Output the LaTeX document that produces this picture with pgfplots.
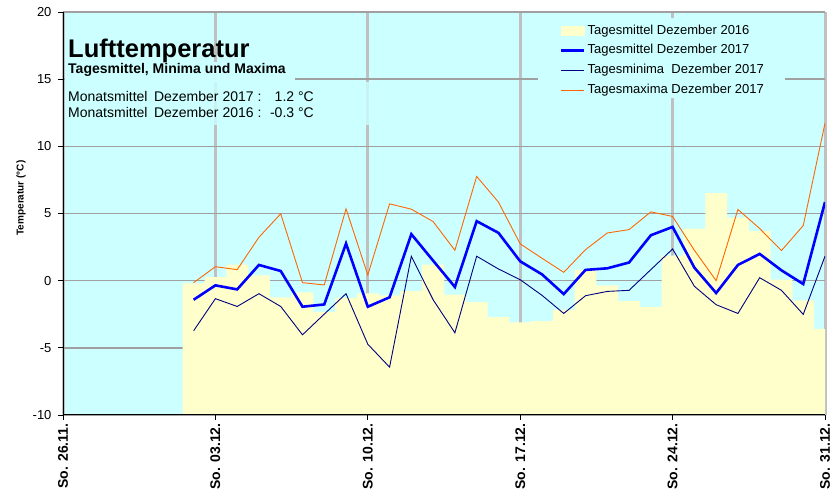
\documentclass[border=0pt]{standalone}
\usepackage{fontspec}
\setmainfont{Liberation Sans}
\usepackage{pgfplots}
\usepackage{pgfplotstable}
\pgfplotsset{compat=1.18}
\usepgfplotslibrary{fillbetween}

\definecolor{bgcyan}{HTML}{CCFFFF}
\definecolor{bar16}{HTML}{FFFFCC}
\definecolor{mean17}{HTML}{0000FF}
\definecolor{min17}{HTML}{000080}
\definecolor{max17}{HTML}{FF6600}
\definecolor{vgrid}{HTML}{C0C0C0}
\definecolor{hgrid}{HTML}{A0A0A0}

% day 0 = So. 26.11., day 35 = So. 31.12.
\pgfplotstableread{
day tmean tmin tmax
6 -1.42 -3.73 -0.15
7 -0.35 -1.34 1.04
8 -0.65 -1.92 0.82
9 1.17 -0.97 3.23
10 0.72 -1.92 4.98
11 -1.94 -4.03 -0.15
12 -1.77 -2.49 -0.32
13 2.76 -0.97 5.35
14 -1.94 -4.73 0.42
15 -1.24 -6.44 5.72
16 3.46 1.82 5.32
17 1.49 -1.42 4.40
18 -0.47 -3.88 2.26
19 4.43 1.82 7.76
20 3.56 0.87 5.85
21 1.44 0.07 2.74
22 0.47 -1.09 1.67
23 -1.00 -2.44 0.62
24 0.80 -1.12 2.31
25 0.92 -0.80 3.55
26 1.35 -0.72 3.80
27 3.38 0.82 5.12
28 4.00 2.36 4.78
29 0.97 -0.42 2.26
30 -0.92 -1.79 0.00
31 1.17 -2.44 5.30
32 1.99 0.22 3.88
33 0.77 -0.72 2.24
34 -0.25 -2.51 4.10
35 5.85 1.82 11.72
}\dezember

% Vorjahr: left edge of each day, last row closes the step
\pgfplotstableread{
xl t16
5.5 -0.20
6.5 0.27
7.5 1.19
8.5 0.40
9.5 -1.24
10.5 -0.87
11.5 -2.34
12.5 -1.29
13.5 -0.95
14.5 -1.10
15.5 -0.77
16.5 1.19
17.5 -1.04
18.5 -1.59
19.5 -2.71
20.5 -3.11
21.5 -3.01
22.5 -2.16
23.5 0.82
24.5 -0.35
25.5 -1.52
26.5 -1.97
27.5 1.87
28.5 3.88
29.5 6.52
30.5 4.70
31.5 3.68
32.5 0.07
33.5 -1.47
34.5 -3.58
35.5 -3.58
}\vorjahr

\begin{document}
\begin{tikzpicture}
\begin{axis}[
  at={(63pt,80pt)}, anchor=south west,
  scale only axis, width=762pt, height=403pt,
  xmin=0, xmax=35, ymin=-10, ymax=20,
  axis background/.style={fill=bgcyan},
  axis line style={draw=none},
  xtick={0,7,14,21,28,35},
  xticklabels={So. 26.11.,So. 03.12.,So. 10.12.,So. 17.12.,So. 24.12.,So. 31.12.},
  ytick={-10,-5,0,5,10,15,20},
  tick pos=left, tick align=outside, major tick length=5pt,
  tick style={black, line width=0.8pt},
  xmajorgrids, ymajorgrids,
  x grid style={vgrid, line width=3pt},
  y grid style={hgrid, line width=1.5pt},
  x tick label style={rotate=90, anchor=east, font=\bfseries\fontsize{14}{16}\selectfont},
  y tick label style={font=\fontsize{13}{15}\selectfont, xshift=-3pt},
  /pgf/number format/assume math mode=true,
  legend image code/.code={\draw[#1] (0pt,0pt) -- (23pt,0pt);},
  legend style={at={(axis description cs:0.652,0.974)}, anchor=north west,
    draw=none, fill=none, inner sep=0pt, row sep=3.3pt,
    font=\fontsize{13}{15}\selectfont,
    nodes={inner sep=2pt, text height=9.5pt, text depth=3pt}},
  legend cell align=left,
]
\addplot[name path=vj, draw=none, const plot mark left, forget plot] table[x=xl, y=t16] {\vorjahr};
\addplot[name path=basis, draw=none, forget plot] coordinates {(5.5,-10) (35.5,-10)};
\addplot[bar16, forget plot] fill between[of=vj and basis];

% text boxes hide the grid
\fill[bgcyan] (axis cs:21.82,13.6) rectangle (axis cs:33.16,19.55);
\fill[bgcyan] (axis cs:0.09,14.79) rectangle (axis cs:10.66,16.28);
\fill[bgcyan, opacity=0.8] (axis cs:0.09,11.59) rectangle (axis cs:14.19,14.79);

\addlegendimage{legend image code/.code={\fill[bar16] (0pt,-4.5pt) rectangle (23pt,4.5pt);}}
\addlegendentry{Tagesmittel Dezember 2016}
\addplot[mean17, line width=2.6pt] table[x=day, y=tmean] {\dezember};
\addlegendentry{Tagesmittel Dezember 2017}
\addplot[min17, line width=0.9pt] table[x=day, y=tmin] {\dezember};
\addlegendentry{Tagesminima\ \ Dezember 2017}
\addplot[max17, line width=0.9pt] table[x=day, y=tmax] {\dezember};
\addlegendentry{Tagesmaxima Dezember 2017}

\draw[hgrid, line width=1.5pt] (rel axis cs:0,1) -- (rel axis cs:1,1);
\draw[black, line width=1pt] (rel axis cs:0,0) -- (rel axis cs:0,1);
\draw[black, line width=1pt] (rel axis cs:0,0) -- (rel axis cs:1,0);
\end{axis}

\node[anchor=base west, inner sep=0pt, font=\bfseries\fontsize{25.5}{30}\selectfont] at (68pt,437.7pt) {Lufttemperatur};
\node[anchor=base west, inner sep=0pt, font=\bfseries\fontsize{14}{17}\selectfont] at (68pt,421pt) {Tagesmittel, Minima und Maxima};
\node[anchor=base west, inner sep=0pt, font=\fontsize{14}{17}\selectfont] at (68pt,393.3pt) {Monatsmittel\hspace{6.5pt}Dezember 2017 :};
\node[anchor=base east, inner sep=0pt, font=\fontsize{14}{17}\selectfont] at (314pt,393.3pt) {1.2 °C};
\node[anchor=base west, inner sep=0pt, font=\fontsize{14}{17}\selectfont] at (68pt,377.7pt) {Monatsmittel\hspace{6.5pt}Dezember 2016 :};
\node[anchor=base east, inner sep=0pt, font=\fontsize{14}{17}\selectfont] at (314pt,377.7pt) {-0.3 °C};
\node[rotate=90, font=\bfseries\fontsize{10}{12}\selectfont] at (21pt,297pt) {Temperatur (°C)};

\pgfresetboundingbox
\path[use as bounding box] (0pt,0pt) rectangle (830pt,495pt);
\end{tikzpicture}
\end{document}
